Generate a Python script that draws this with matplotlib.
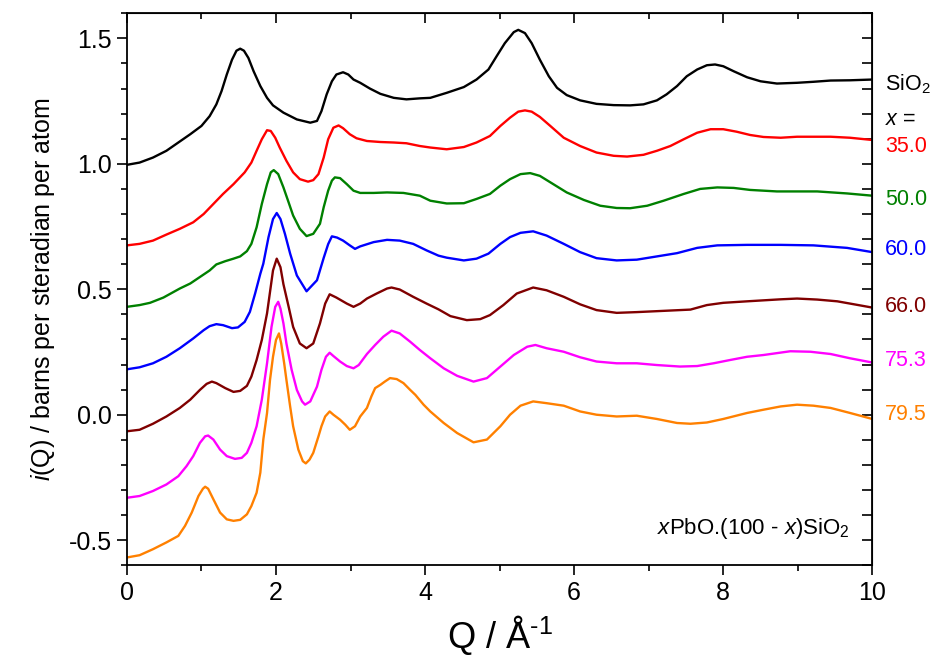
import matplotlib
matplotlib.use('Agg')
import matplotlib.pyplot as plt
from matplotlib.ticker import MultipleLocator, FormatStrFormatter

plt.rcParams['font.family'] = 'Liberation Sans'
plt.rcParams['mathtext.fontset'] = 'custom'
plt.rcParams['mathtext.rm'] = 'Liberation Sans'
plt.rcParams['mathtext.it'] = 'Liberation Sans:italic'

# i(Q) curves, one per composition
q_sio2 = [0.0, 0.17, 0.35, 0.53, 0.69, 0.85, 1.0, 1.11, 1.2, 1.27, 1.34, 1.41, 1.47, 1.52, 1.57,
          1.63, 1.7, 1.79, 1.88, 1.96, 2.1, 2.28, 2.46, 2.55, 2.61, 2.68, 2.75, 2.81, 2.9, 2.97,
          3.04, 3.13, 3.26, 3.4, 3.58, 3.75, 3.93, 4.07, 4.29, 4.52, 4.69, 4.85, 4.96, 5.07, 5.19,
          5.25, 5.34, 5.43, 5.54, 5.66, 5.77, 5.9, 6.08, 6.3, 6.53, 6.75, 6.93, 7.11, 7.24, 7.38,
          7.51, 7.65, 7.78, 7.89, 8.0, 8.14, 8.32, 8.5, 8.72, 8.99, 9.21, 9.44, 9.7, 10.0]
i_sio2 = [0.996, 1.005, 1.025, 1.052, 1.085, 1.118, 1.151, 1.19, 1.237, 1.29, 1.356, 1.415, 1.451,
          1.459, 1.451, 1.422, 1.369, 1.31, 1.263, 1.233, 1.204, 1.177, 1.164, 1.171, 1.21, 1.277,
          1.329, 1.356, 1.365, 1.356, 1.336, 1.323, 1.3, 1.279, 1.263, 1.257, 1.261, 1.263, 1.283,
          1.306, 1.336, 1.376, 1.429, 1.481, 1.525, 1.534, 1.521, 1.481, 1.415, 1.349, 1.303,
          1.274, 1.253, 1.239, 1.234, 1.233, 1.237, 1.253, 1.277, 1.31, 1.349, 1.376, 1.393, 1.396,
          1.389, 1.369, 1.345, 1.329, 1.32, 1.323, 1.327, 1.332, 1.333, 1.336]

q_350 = [0.0, 0.17, 0.35, 0.53, 0.71, 0.89, 1.03, 1.16, 1.29, 1.43, 1.58, 1.67, 1.74, 1.81, 1.88,
         1.93, 1.99, 2.05, 2.14, 2.23, 2.32, 2.43, 2.5, 2.57, 2.64, 2.7, 2.77, 2.84, 2.9, 2.99,
         3.08, 3.22, 3.4, 3.58, 3.75, 3.93, 4.07, 4.29, 4.52, 4.69, 4.87, 5.01, 5.14, 5.25, 5.34,
         5.43, 5.54, 5.68, 5.86, 6.08, 6.3, 6.53, 6.71, 6.93, 7.11, 7.29, 7.47, 7.65, 7.83, 8.0,
         8.18, 8.36, 8.54, 8.77, 8.99, 9.21, 9.44, 9.7, 10.0]
i_350 = [0.675, 0.681, 0.694, 0.718, 0.741, 0.767, 0.8, 0.84, 0.88, 0.919, 0.966, 1.005, 1.052,
         1.098, 1.134, 1.131, 1.104, 1.065, 1.012, 0.966, 0.939, 0.929, 0.935, 0.959, 1.025, 1.098,
         1.144, 1.153, 1.142, 1.118, 1.102, 1.091, 1.087, 1.085, 1.082, 1.071, 1.065, 1.058, 1.067,
         1.085, 1.111, 1.151, 1.184, 1.208, 1.213, 1.208, 1.187, 1.151, 1.104, 1.071, 1.045, 1.032,
         1.029, 1.036, 1.052, 1.071, 1.098, 1.124, 1.138, 1.138, 1.128, 1.115, 1.107, 1.104, 1.108,
         1.108, 1.108, 1.104, 1.095]

q_500 = [0.0, 0.17, 0.31, 0.49, 0.71, 0.85, 0.98, 1.11, 1.2, 1.32, 1.43, 1.52, 1.61, 1.67, 1.74,
         1.81, 1.88, 1.93, 1.97, 2.03, 2.1, 2.17, 2.23, 2.32, 2.41, 2.5, 2.59, 2.64, 2.7, 2.75,
         2.79, 2.86, 2.95, 3.04, 3.13, 3.31, 3.49, 3.71, 3.93, 4.07, 4.29, 4.52, 4.69, 4.87, 5.01,
         5.14, 5.28, 5.41, 5.54, 5.72, 5.9, 6.13, 6.35, 6.57, 6.75, 6.98, 7.2, 7.47, 7.69, 7.92,
         8.14, 8.36, 8.72, 9.26, 9.66, 10.0]
i_500 = [0.43, 0.437, 0.446, 0.467, 0.503, 0.523, 0.549, 0.575, 0.599, 0.612, 0.622, 0.631, 0.652,
         0.681, 0.747, 0.84, 0.919, 0.966, 0.975, 0.959, 0.906, 0.846, 0.794, 0.741, 0.712, 0.721,
         0.761, 0.827, 0.893, 0.933, 0.946, 0.943, 0.919, 0.893, 0.884, 0.884, 0.886, 0.884, 0.873,
         0.853, 0.842, 0.843, 0.86, 0.88, 0.913, 0.939, 0.959, 0.963, 0.952, 0.919, 0.886, 0.856,
         0.833, 0.824, 0.823, 0.833, 0.853, 0.88, 0.9, 0.906, 0.904, 0.896, 0.89, 0.89, 0.882, 0.873]

q_600 = [0.0, 0.17, 0.35, 0.53, 0.71, 0.89, 1.03, 1.11, 1.2, 1.29, 1.41, 1.49, 1.58, 1.65, 1.72,
         1.79, 1.83, 1.9, 1.96, 2.01, 2.06, 2.12, 2.19, 2.28, 2.41, 2.55, 2.64, 2.7, 2.75, 2.82,
         2.9, 2.99, 3.06, 3.13, 3.31, 3.49, 3.66, 3.84, 4.02, 4.18, 4.29, 4.52, 4.69, 4.85, 5.01,
         5.14, 5.28, 5.45, 5.63, 5.86, 6.08, 6.3, 6.57, 6.84, 7.11, 7.38, 7.65, 7.92, 8.32, 8.77,
         9.21, 9.66, 10.0]
i_600 = [0.181, 0.189, 0.205, 0.231, 0.265, 0.304, 0.337, 0.353, 0.361, 0.357, 0.345, 0.348, 0.37,
         0.41, 0.483, 0.562, 0.602, 0.708, 0.78, 0.804, 0.78, 0.721, 0.642, 0.555, 0.492, 0.536,
         0.625, 0.68, 0.711, 0.706, 0.694, 0.675, 0.661, 0.671, 0.688, 0.697, 0.694, 0.681, 0.655,
         0.634, 0.626, 0.615, 0.622, 0.642, 0.681, 0.708, 0.725, 0.731, 0.714, 0.681, 0.648, 0.624,
         0.615, 0.618, 0.631, 0.644, 0.665, 0.675, 0.677, 0.677, 0.675, 0.665, 0.648]

q_660 = [0.0, 0.17, 0.35, 0.53, 0.71, 0.85, 0.98, 1.07, 1.14, 1.2, 1.32, 1.43, 1.52, 1.61, 1.67,
         1.74, 1.81, 1.88, 1.96, 2.01, 2.06, 2.1, 2.17, 2.23, 2.32, 2.41, 2.5, 2.59, 2.66, 2.72,
         2.81, 2.95, 3.04, 3.13, 3.22, 3.35, 3.49, 3.55, 3.66, 3.84, 4.02, 4.18, 4.34, 4.56, 4.74,
         4.87, 5.05, 5.23, 5.45, 5.63, 5.86, 6.08, 6.3, 6.57, 6.84, 7.2, 7.56, 7.78, 8.0, 8.32,
         8.77, 8.99, 9.26, 9.53, 9.7, 10.0]
i_660 = [-0.066, -0.06, -0.036, -0.007, 0.027, 0.06, 0.099, 0.123, 0.132, 0.126, 0.106, 0.091,
         0.095, 0.115, 0.152, 0.218, 0.298, 0.404, 0.575, 0.622, 0.588, 0.52, 0.43, 0.35, 0.284,
         0.265, 0.284, 0.364, 0.443, 0.48, 0.467, 0.443, 0.43, 0.443, 0.463, 0.483, 0.503, 0.507,
         0.499, 0.47, 0.443, 0.42, 0.393, 0.377, 0.381, 0.397, 0.437, 0.483, 0.507, 0.496, 0.47,
         0.44, 0.417, 0.406, 0.409, 0.414, 0.419, 0.437, 0.446, 0.452, 0.46, 0.463, 0.459, 0.452,
         0.443, 0.427]

q_753 = [0.0, 0.17, 0.35, 0.53, 0.69, 0.8, 0.89, 0.98, 1.05, 1.09, 1.16, 1.25, 1.34, 1.45, 1.54,
         1.61, 1.67, 1.74, 1.81, 1.88, 1.94, 1.99, 2.03, 2.06, 2.1, 2.14, 2.21, 2.28, 2.35, 2.39,
         2.46, 2.55, 2.61, 2.67, 2.72, 2.77, 2.86, 2.95, 3.04, 3.11, 3.22, 3.33, 3.44, 3.55, 3.66,
         3.8, 3.93, 4.07, 4.25, 4.43, 4.65, 4.83, 5.01, 5.19, 5.37, 5.48, 5.63, 5.86, 6.08, 6.3,
         6.57, 6.84, 7.11, 7.42, 7.65, 7.87, 8.09, 8.32, 8.54, 8.9, 9.17, 9.44, 9.7, 10.0]
i_753 = [-0.331, -0.324, -0.304, -0.278, -0.245, -0.205, -0.165, -0.112, -0.086, -0.083, -0.099,
         -0.139, -0.165, -0.176, -0.172, -0.152, -0.112, -0.046, 0.06, 0.205, 0.35, 0.43, 0.45,
         0.423, 0.364, 0.284, 0.179, 0.099, 0.053, 0.04, 0.053, 0.112, 0.179, 0.231, 0.247, 0.234,
         0.212, 0.194, 0.185, 0.198, 0.242, 0.278, 0.311, 0.335, 0.324, 0.291, 0.258, 0.225, 0.185,
         0.155, 0.132, 0.146, 0.192, 0.238, 0.271, 0.278, 0.265, 0.251, 0.229, 0.212, 0.205, 0.205,
         0.198, 0.192, 0.194, 0.205, 0.218, 0.231, 0.238, 0.253, 0.251, 0.242, 0.225, 0.208]

q_795 = [0.0, 0.17, 0.35, 0.53, 0.69, 0.78, 0.87, 0.96, 1.02, 1.05, 1.09, 1.16, 1.25, 1.34, 1.43,
         1.52, 1.61, 1.67, 1.74, 1.79, 1.83, 1.88, 1.92, 1.96, 2.0, 2.04, 2.07, 2.11, 2.14, 2.19,
         2.23, 2.3, 2.36, 2.4, 2.45, 2.5, 2.57, 2.61, 2.66, 2.72, 2.77, 2.86, 2.93, 2.99, 3.06,
         3.13, 3.22, 3.28, 3.33, 3.4, 3.46, 3.53, 3.62, 3.71, 3.8, 3.87, 3.98, 4.07, 4.25, 4.43,
         4.65, 4.83, 5.01, 5.14, 5.28, 5.45, 5.63, 5.86, 6.08, 6.3, 6.57, 6.84, 7.11, 7.38, 7.56,
         7.78, 8.0, 8.32, 8.54, 8.77, 8.99, 9.21, 9.44, 9.7, 10.0]
i_795 = [-0.569, -0.56, -0.536, -0.509, -0.483, -0.443, -0.39, -0.324, -0.295, -0.287, -0.295,
         -0.337, -0.39, -0.417, -0.423, -0.419, -0.397, -0.364, -0.311, -0.231, -0.099, 0.007,
         0.139, 0.231, 0.298, 0.324, 0.284, 0.205, 0.139, 0.033, -0.046, -0.139, -0.185, -0.194,
         -0.179, -0.152, -0.086, -0.046, -0.007, 0.013, 0.0, -0.02, -0.04, -0.06, -0.046, -0.007,
         0.027, 0.073, 0.106, 0.119, 0.132, 0.146, 0.142, 0.126, 0.099, 0.079, 0.04, 0.013, -0.033,
         -0.073, -0.11, -0.099, -0.046, 0.0, 0.036, 0.053, 0.046, 0.036, 0.013, 0.0, -0.007,
         -0.004, -0.017, -0.033, -0.036, -0.031, -0.017, 0.007, 0.02, 0.033, 0.04, 0.036, 0.027,
         0.007, -0.017]

labels = ['SiO$_2$', '35.0', '50.0', '60.0', '66.0', '75.3', '79.5']
colors = ['black', '#ff0000', '#008000', '#0000ff', '#800000', '#ff00ff', '#ff8000']
label_y = [1.317, 1.071, 0.857, 0.659, 0.433, 0.218, 0.002]

curves = [(q_sio2, i_sio2), (q_350, i_350), (q_500, i_500), (q_600, i_600),
          (q_660, i_660), (q_753, i_753), (q_795, i_795)]

fig = plt.figure(figsize=(9.33, 6.65), dpi=100)
ax = fig.add_axes([0.136, 0.150, 0.799, 0.830])

for (q, iq), c in zip(curves, colors):
    ax.plot(q, iq, color=c, lw=1.7, solid_joinstyle='round')

ax.set_xlim(0, 10)
ax.set_ylim(-0.6, 1.6)
ax.xaxis.set_major_locator(MultipleLocator(2))
ax.xaxis.set_minor_locator(MultipleLocator(1))
ax.yaxis.set_major_locator(MultipleLocator(0.5))
ax.yaxis.set_minor_locator(MultipleLocator(0.1))
ax.yaxis.set_major_formatter(FormatStrFormatter('%.1f'))
ax.tick_params(which='major', direction='out', length=7, width=1.2, labelsize=18, pad=4)
ax.tick_params(which='minor', direction='out', length=4, width=1.2)
for s in ax.spines.values():
    s.set_linewidth(1.3)

# mirrored axes with inward ticks
top = ax.secondary_xaxis('top')
top.xaxis.set_major_locator(MultipleLocator(2))
top.xaxis.set_minor_locator(MultipleLocator(1))
top.tick_params(which='both', direction='in', labeltop=False, width=1.2)
top.tick_params(which='major', length=7)
top.tick_params(which='minor', length=4)
right = ax.secondary_yaxis('right')
right.yaxis.set_major_locator(MultipleLocator(0.5))
right.yaxis.set_minor_locator(MultipleLocator(0.1))
right.tick_params(which='both', direction='in', labelright=False, width=1.2, length=7)

ax.set_xlabel(r'Q / Å$^{\text{-}1}$', fontsize=26, labelpad=6)
ax.set_ylabel('$i$(Q) / barns per steradian per atom', fontsize=18, labelpad=8)

for lab, yv, c in zip(labels, label_y, colors):
    ax.text(1.017, yv, lab, color=c, fontsize=15.5, va='center', ha='left',
            transform=ax.get_yaxis_transform(), clip_on=False)
ax.text(1.017, 1.175, '$x$ =', color='black', fontsize=15.5, va='center', ha='left',
        transform=ax.get_yaxis_transform(), clip_on=False)

ax.text(0.97, -0.452, '$x$PbO.(100 - $x$)SiO$_2$', fontsize=16, ha='right', va='center',
        transform=ax.get_yaxis_transform())

fig.savefig('out.png', dpi=100)
